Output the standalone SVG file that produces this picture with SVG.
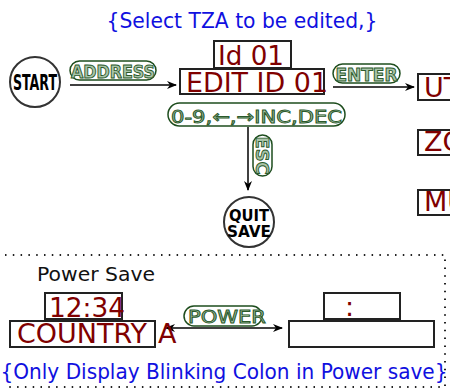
<svg xmlns="http://www.w3.org/2000/svg" width="450" height="390" viewBox="0 0 450 390">
<defs>
<marker id="ah" markerWidth="10" markerHeight="8" refX="9" refY="4" orient="auto" markerUnits="userSpaceOnUse"><path d="M0,0 L10,4 L0,8 L3,4 Z" fill="#000"/></marker>
<marker id="ahs" markerWidth="10" markerHeight="8" refX="1" refY="4" orient="auto" markerUnits="userSpaceOnUse"><path d="M10,0 L0,4 L10,8 L7,4 Z" fill="#000"/></marker>
<style>
text{font-family:"DejaVu Sans",sans-serif}
.blue{fill:#1010e0;font-size:21px}
.box{fill:#fff;stroke:#222;stroke-width:2}
.red{fill:#800000;font-size:27px}
.pill{fill:#fff;stroke:#1e4d1e;stroke-width:1.5}
.gt{fill:#a9c4a9;stroke:#2b5a2b;stroke-width:0.9;font-size:18px;font-family:"DejaVu Sans Condensed","DejaVu Sans",sans-serif}
.circ{fill:#fff;stroke:#333;stroke-width:2}
.bt{font-weight:bold;font-family:"DejaVu Sans Condensed","DejaVu Sans",sans-serif;fill:#000}
.conn{stroke:#000;stroke-width:1.5;fill:none}
.dot{stroke:#222;stroke-width:2;stroke-dasharray:1.5 6.3;fill:none}
</style>
</defs>
<text class="blue" x="242" y="28" text-anchor="middle" textLength="271" lengthAdjust="spacingAndGlyphs">{Select TZA to be edited,}</text>
<g id="connectors">
<line class="conn" x1="70" y1="85" x2="176" y2="85" marker-end="url(#ah)"/>
<line class="conn" x1="333" y1="87" x2="414" y2="87" marker-end="url(#ah)"/>
<line class="conn" x1="248" y1="127" x2="248" y2="190" marker-end="url(#ah)"/>
<line class="conn" x1="166" y1="328" x2="282" y2="328" marker-start="url(#ahs)" marker-end="url(#ah)"/>
</g>
<g id="start">
<circle class="circ" cx="35" cy="82" r="25"/>
<text class="bt" x="35" y="90" font-size="21" text-anchor="middle" textLength="44" lengthAdjust="spacingAndGlyphs">START</text>
</g>
<g id="lbl-address">
<rect class="pill" x="70" y="61" width="86" height="19" rx="9.5"/>
<text class="gt" x="113" y="78" text-anchor="middle" font-weight="bold" textLength="84" lengthAdjust="spacingAndGlyphs">ADDRESS</text>
</g>
<g id="id01">
<rect class="box" x="214" y="41" width="77" height="27"/>
<text class="red" x="218" y="65" font-size="28" textLength="66" lengthAdjust="spacingAndGlyphs">Id 01</text>
</g>
<g id="editid">
<rect class="box" x="180" y="69" width="144" height="25"/>
<text class="red" x="186" y="92" textLength="142" lengthAdjust="spacingAndGlyphs">EDIT ID 01</text>
</g>
<g id="lbl-enter">
<rect class="pill" x="333" y="64" width="67" height="19" rx="9.5"/>
<text class="gt" x="366.5" y="81" text-anchor="middle" font-weight="bold" textLength="62" lengthAdjust="spacingAndGlyphs">ENTER</text>
</g>
<g id="ut">
<rect class="box" x="418" y="74" width="40" height="26" stroke="#444"/>
<text class="red" x="424" y="97">UT</text>
</g>
<g id="zo">
<rect class="box" x="418" y="130" width="40" height="25" stroke="#444"/>
<text class="red" x="424" y="151" font-size="23">ZO</text>
</g>
<g id="mu">
<rect class="box" x="418" y="190" width="40" height="25" stroke="#444"/>
<text class="red" x="424" y="211" font-size="23">MU</text>
</g>
<g id="lbl-keys">
<rect class="pill" x="168" y="103" width="177" height="23" rx="11.5" stroke-width="2.5"/>
<text class="gt" x="256.5" y="123" text-anchor="middle" font-size="23" textLength="171" lengthAdjust="spacingAndGlyphs">0-9,←,→INC,DEC</text>
</g>
<g id="lbl-esc">
<rect class="pill" x="253" y="135" width="19" height="41" rx="9.5"/>
<text class="gt" transform="translate(256,155.5) rotate(90)" x="0" y="0" text-anchor="middle" font-size="17" font-weight="bold" textLength="38" lengthAdjust="spacingAndGlyphs">ESC</text>
</g>
<g id="quitsave">
<circle class="circ" cx="249" cy="222" r="25"/>
<text class="bt" x="249" y="221" font-size="16" text-anchor="middle" textLength="40" lengthAdjust="spacingAndGlyphs">QUIT</text>
<text class="bt" x="249" y="237" font-size="16" text-anchor="middle" textLength="44" lengthAdjust="spacingAndGlyphs">SAVE</text>
</g>
<g id="powersave-frame">
<path class="dot" d="M5,255 H445 V387 H5"/>
</g>
<text x="37" y="281" font-size="19" fill="#111" textLength="118" lengthAdjust="spacingAndGlyphs">Power Save</text>
<g id="clock">
<rect class="box" x="45" y="293" width="77" height="26"/>
<text class="red" x="49" y="317" font-size="29" textLength="76" lengthAdjust="spacingAndGlyphs">12:34</text>
</g>
<g id="country">
<rect class="box" x="10" y="321" width="145" height="26"/>
<text class="red" x="17" y="343" font-size="26" textLength="130" lengthAdjust="spacingAndGlyphs">COUNTRY</text>
<text class="red" x="158" y="343" font-size="26">A</text>
</g>
<g id="lbl-power">
<rect class="pill" x="184" y="306" width="78" height="20" rx="10"/>
<text class="gt" x="227" y="323" text-anchor="middle" font-size="20" textLength="78" lengthAdjust="spacingAndGlyphs">POWER</text>
</g>
<g id="colon">
<rect class="box" x="324" y="293" width="76" height="26"/>
<text class="red" x="345" y="316" font-size="22">:</text>
</g>
<g id="blank">
<rect class="box" x="289" y="321" width="145" height="26"/>
</g>
<text class="blue" x="224" y="379" text-anchor="middle" textLength="447" lengthAdjust="spacingAndGlyphs">{Only Display Blinking Colon in Power save}</text>
</svg>
